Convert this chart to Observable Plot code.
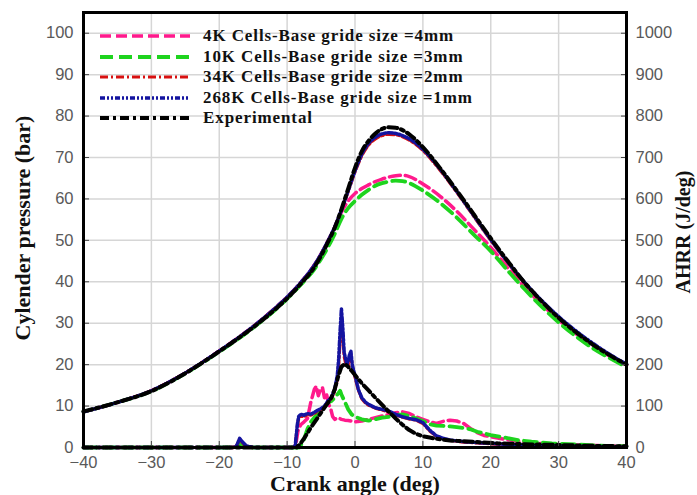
<!DOCTYPE html>
<html><head><meta charset="utf-8">
<script src="https://cdn.jsdelivr.net/npm/d3@7"></script>
<script src="https://cdn.jsdelivr.net/npm/@observablehq/plot@0.6"></script>
<style>
body{margin:0;background:#fff;}
#wrap{position:relative;width:697px;height:495px;overflow:hidden;}
#legend{position:absolute;left:98px;top:26px;font-family:"Liberation Serif","Times New Roman",serif;font-weight:bold;font-size:17px;letter-spacing:0.9px;color:#111;}
#legend .row{display:flex;align-items:center;height:20.5px;}
#legend svg{width:94px;height:20px;margin-right:11px;}
</style></head><body><div id="wrap"><div id="legend"></div></div>
<script>
// ---- Series names ----
const seriesNames = [
  "4K Cells-Base gride size =4mm",
  "10K Cells-Base gride size =3mm",
  "34K Cells-Base gride size =2mm",
  "268K Cells-Base gride size =1mm",
  "Experimental"
];

// ---- Axis ticks ----
const xTicks = [-40, -30, -20, -10, 0, 10, 20, 30, 40];
const pTicks = [0, 10, 20, 30, 40, 50, 60, 70, 80, 90, 100];
const hrrTicks = [0, 100, 200, 300, 400, 500, 600, 700, 800, 900, 1000];

// ---- Cylinder pressure (bar) ----
const pAngles = [-40,-35,-30,-25,-20,-15,-12,-10,-8,-6,-5,-4,-3,-2,-1,0,1,2,3,4,5,6,7,8,10,12.5,15,17.5,20,22.5,25,27.5,30,32.5,35,37.5,40];
const p4K   = [8.6,10.9,13.7,18.0,23.3,29.2,33.3,36.3,39.8,44.0,46.7,49.8,53.0,56.8,59.5,61.3,62.5,63.4,64.2,64.8,65.3,65.6,65.7,65.4,63.6,60.7,57.0,52.7,48.3,43.4,38.7,34.6,30.8,27.5,24.6,22.1,19.9];
const p10K  = [8.6,10.9,13.6,17.9,23.1,28.9,32.9,35.9,39.3,43.0,45.5,48.3,51.5,55.2,57.8,59.5,61.0,62.2,63.2,63.8,64.2,64.4,64.3,63.8,62.0,59.1,55.5,51.4,47.4,42.7,38.2,34.0,30.2,26.9,24.0,21.6,19.4];
const p34K  = [8.6,10.9,13.7,18.0,23.3,29.2,33.3,36.3,39.8,44.0,46.7,49.8,53.2,57.2,61.8,66.5,70.4,73.0,74.5,75.3,75.6,75.5,75.0,74.2,71.7,67.0,61.6,55.8,50.0,44.6,39.6,35.3,31.4,28.0,25.0,22.4,20.0];
const p268K = [8.6,10.9,13.7,18.0,23.3,29.2,33.3,36.3,39.8,44.0,46.7,49.8,53.2,57.3,62.0,66.8,70.8,73.4,74.9,75.7,76.0,75.8,75.3,74.5,72.0,67.3,61.8,56.0,50.2,44.8,39.8,35.5,31.6,28.2,25.2,22.5,20.1];
const pExp  = [8.7,10.9,13.6,17.9,23.2,29.0,33.0,36.0,39.5,43.5,46.3,49.5,53.0,57.5,62.5,67.5,71.5,74.0,75.8,76.9,77.3,77.2,76.6,75.6,72.5,67.5,62.0,56.3,50.5,45.0,39.8,35.3,31.3,27.9,24.9,22.3,20.0];

// ---- Apparent heat release rate (J/deg) ----
const h4KAngles = [-40,-18,-17.5,-17,-16.5,-16,-15,-9,-8.7,-8.4,-8,-7.5,-7,-6.5,-6,-5.7,-5.4,-5.1,-4.8,-4.5,-4.2,-3.9,-3.6,-3.3,-3,-2.5,-2,-1.5,-1,0,1,2,3,4,5,6,7,8,9,10,11,12,13,14,15,16,17,18,19,20,22,24,27,30,35,40];
const h4K       = [0,0,2,18,8,2,0,0,10,40,55,62,70,110,140,148,125,140,145,120,130,105,95,75,68,72,68,66,65,62,64,68,72,76,80,84,86,82,74,68,62,58,63,66,64,58,46,36,29,26,20,15,10,7,5,3];
const h10KAngles = [-40,-18,-17.5,-17,-16.5,-16,-15,-8.2,-8,-7.5,-7,-6.5,-6,-5.5,-5,-4.5,-4,-3.5,-3,-2.5,-2.2,-2,-1.5,-1,-0.5,0,1,2,3,4,5,6,7,8,9,10,11,12,13,14,15,16,17,18,19,20,22,24,26,29,33,37,40];
const h10K       = [0,0,1,10,5,1,0,0,5,20,45,62,72,82,90,98,108,112,120,130,137,128,110,92,80,74,68,65,68,72,74,78,80,76,70,64,56,53,52,51,49,47,44,38,34,30,24,18,14,10,7,4,3];
const h34KAngles = [-40,-18,-17.5,-17,-16.5,-16,-15,-9,-8.8,-8.5,-8.3,-8,-7.5,-7,-6.5,-6,-5.5,-5,-4.5,-4,-3.5,-3,-2.6,-2.4,-2.2,-2,-1.8,-1.6,-1.4,-1.2,-1,-0.8,-0.6,-0.4,-0.2,0,0.5,1,1.5,2,3,4,5,6,7,8,9,10,11,12,13,14,16,18,20,23,26,30,35,40];
const h34K       = [0,0,2,20,10,3,0,0,4,50,70,76,74,80,78,82,88,92,98,108,118,135,165,200,255,300,270,220,205,195,200,215,222,195,180,170,138,118,108,102,95,90,86,79,73,69,66,58,40,27,21,17,13,11,9,6,5,3,2,1];
const h268KAngles = [-40,-18,-17.5,-17,-16.5,-16,-15,-9,-8.8,-8.5,-8.3,-8,-7.5,-7,-6.5,-6,-5.5,-5,-4.5,-4,-3.5,-3,-2.6,-2.4,-2.2,-2,-1.8,-1.6,-1.4,-1.2,-1,-0.8,-0.6,-0.4,-0.2,0,0.5,1,1.5,2,3,4,5,6,7,8,9,10,11,12,13,14,16,18,20,23,26,30,35,40];
const h268K       = [0,0,2,22,12,4,0,0,5,55,75,80,78,82,80,85,90,94,100,112,120,140,175,215,280,335,290,230,215,200,210,225,232,200,185,175,140,120,110,104,96,92,88,80,74,70,67,60,42,28,22,18,14,12,10,7,5,4,2,1];
const hExpAngles = [-40,-8.6,-8.3,-8,-7.5,-7,-6.5,-6,-5.5,-5,-4.5,-4,-3.5,-3,-2.5,-2,-1.5,-1,-0.5,0,0.5,1,2,3,4,5,6,7,8,9,10,11,12,14,16,18,21,25,30,35,40];
const hExp       = [0,0,5,10,22,35,48,60,72,84,96,108,120,140,170,195,202,195,185,175,165,155,138,120,103,86,70,55,42,33,27,24,21,17,15,13,10,8,6,4,3];

// ---- styles ----
const styles = [
  {stroke: "#ff1a8c", strokeWidth: 3.5, dash: "11,5"},
  {stroke: "#1ed41e", strokeWidth: 3.8, dash: "13,6"},
  {stroke: "#d81010", strokeWidth: 3.2, dash: "8,3,2,3"},
  {stroke: "#1414a0", strokeWidth: 3.5, dash: "5,2,2,2,2,2"},
  {stroke: "#000000", strokeWidth: 4, dash: "9,4,3,4"}
];

const pSeries = [p4K, p10K, p34K, p268K, pExp];
const hSeries = [[h4KAngles,h4K],[h10KAngles,h10K],[h34KAngles,h34K],[h268KAngles,h268K],[hExpAngles,hExp]];

const pRows = [], hRows = [];
pSeries.forEach((vals, s) => vals.forEach((v, i) => pRows.push({s, angle: pAngles[i], value: v})));
hSeries.forEach(([ang, vals], s) => vals.forEach((v, i) => hRows.push({s, angle: ang[i], value: v})));

const lineMarks = [];
styles.forEach((st, s) => {
  lineMarks.push(Plot.line(hRows.filter(d => d.s === s), {
    x: "angle", y: d => d.value / 10, stroke: st.stroke, strokeWidth: st.strokeWidth,
    strokeDasharray: st.dash, curve: "linear"
  }));
});
styles.forEach((st, s) => {
  lineMarks.push(Plot.line(pRows.filter(d => d.s === s), {
    x: "angle", y: "value", stroke: st.stroke, strokeWidth: st.strokeWidth,
    strokeDasharray: st.dash, curve: "monotone-x"
  }));
});

const titleFont = {fontFamily: "'Liberation Serif','Times New Roman',serif", fontWeight: "bold", fill: "#111", textAnchor: "middle", lineAnchor: "middle"};

const chart = Plot.plot({
  width: 697, height: 495,
  marginLeft: 83, marginRight: 71, marginTop: 12, marginBottom: 48,
  x: {domain: [-40, 40]},
  y: {domain: [0, 105]},
  style: {fontFamily: "'Liberation Sans', Arial, sans-serif", fontSize: "16.5px", color: "#595959", background: "#fff"},
  marks: [
    Plot.gridX(xTicks, {stroke: "#d6d6d6", strokeOpacity: 1, strokeWidth: 1.5}),
    Plot.gridY(pTicks.filter(d => d > 0), {stroke: "#d6d6d6", strokeOpacity: 1, strokeWidth: 1.5}),
    ...lineMarks,
    Plot.axisX(xTicks, {anchor: "bottom", tickSize: -6, tickPadding: 15, label: null, stroke: "#444"}),
    Plot.axisY(pTicks, {anchor: "left", tickSize: -6, tickPadding: 16, label: null, stroke: "#444"}),
    Plot.axisY(hrrTicks.map(d => d / 10), {anchor: "right", tickSize: -6, tickPadding: 15, label: null, stroke: "#444", tickFormat: d => String(Math.round(d * 10))}),
    Plot.frame({stroke: "#000", strokeWidth: 3}),
    Plot.text(["Crank angle (deg)"], {frameAnchor: "bottom", dy: 36, fontSize: 22, text: d => d, ...titleFont}),
    Plot.text(["Cylender pressure (bar)"], {frameAnchor: "left", dx: -61, dy: -2, rotate: -90, fontSize: 22, text: d => d, ...titleFont}),
    Plot.text(["AHRR (J/deg)"], {frameAnchor: "right", dx: 57, dy: 2, rotate: -90, fontSize: 20, text: d => d, ...titleFont})
  ]
});
document.getElementById("wrap").prepend(chart);

// ---- legend ----
const legend = document.getElementById("legend");
seriesNames.forEach((name, s) => {
  const st = styles[s];
  const row = document.createElement("div");
  row.className = "row";
  row.innerHTML = `<svg viewBox="0 0 94 20"><line x1="2" y1="10" x2="92" y2="10" stroke="${st.stroke}" stroke-width="${st.strokeWidth}" stroke-dasharray="${st.dash}"/></svg><span>${name}</span>`;
  legend.appendChild(row);
});
</script></body></html>
